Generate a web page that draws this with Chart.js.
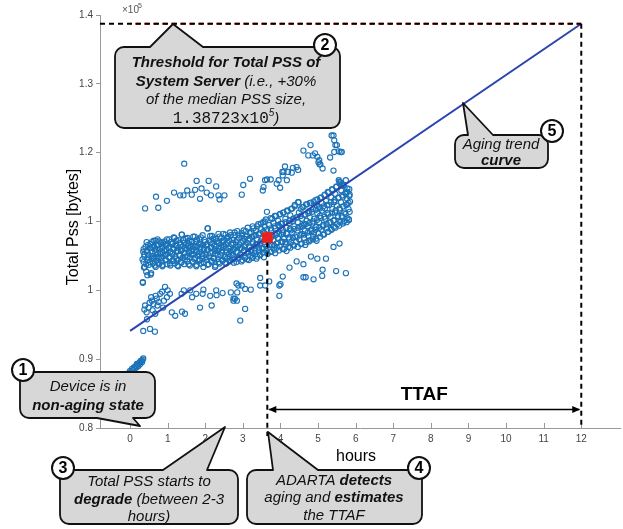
<!DOCTYPE html>
<html>
<head>
<meta charset="utf-8">
<script src="https://cdn.jsdelivr.net/npm/chart.js@4/dist/chart.umd.min.js"></script>
<style>
body { margin: 0; background: #fff; }
#wrap { position: relative; width: 623px; height: 529px; }
</style>
</head>
<body>
<div id="wrap"><canvas id="pss"></canvas></div>
<script>
// axis ticks
const xTickValues = [0, 1, 2, 3, 4, 5, 6, 7, 8, 9, 10, 11, 12];
const yTickValues = [0.8, 0.9, 1.0, 1.1, 1.2, 1.3, 1.4];
const yTickLabels = ['0.8', '0.9', '1', '1.1', '1.2', '1.3', '1.4'];

// trend + threshold (x10^5 bytes)
const trendHours = [0, 12];
const trendPss = [0.941, 1.38723];
const thresholdPss = 1.38723;
const detectHour = 3.65;
const detectPss = 1.0765;
const failHour = 12;
const ttafLevel = 0.827;

// samples [hours, pss x10^5]
const startCluster = [[-0.03,0.880],[0.0,0.883],[0.03,0.881],[0.05,0.886],[0.08,0.884],[0.1,0.888],[0.12,0.886],[0.15,0.890],
  [0.17,0.888],[0.2,0.892],[0.22,0.890],[0.25,0.895],[0.27,0.893],[0.3,0.898],[0.32,0.896],[0.35,0.901],[0.33,0.899],
  [0.28,0.897],[0.18,0.893],[0.08,0.879]];

const lowerBand = [[0.35,0.941],[0.53,0.944],[0.66,0.940],[0.40,0.978],[0.44,0.968],[0.58,0.985],[0.71,0.988],[0.80,0.995],
  [0.93,1.005],[1.06,0.995],[0.98,0.990],[0.49,0.975],[0.62,0.980],[0.73,0.978],[0.90,0.985],[1.11,0.968],[1.20,0.963],
  [0.67,0.966],[1.37,0.995],[1.43,1.000],[1.60,1.000],[1.65,0.990],[1.76,0.995],[1.86,0.975],[1.95,1.001],[1.93,0.995],
  [2.13,0.992],[2.17,0.978],[2.29,1.000],[2.30,0.993],[2.46,0.996],[2.68,0.997],[2.79,0.988],[2.84,0.985],[2.83,1.010],
  [2.93,0.956],[2.88,1.007],[2.97,1.007],[3.06,1.002],[3.21,1.001],[2.75,0.988],[3.06,0.973],[3.46,1.018],[3.46,1.007],
  [3.59,1.007],[3.70,1.013],[3.97,1.007],[4.00,1.009],[3.97,0.992],[4.06,1.020],[4.24,1.033],[4.43,1.042],[4.61,1.038],
  [4.61,1.019],[4.67,1.019],[4.88,1.016],[4.81,1.049],[4.98,1.046],[5.21,1.046],[5.12,1.030],[5.11,1.021],[5.41,1.063],
  [5.57,1.068],[5.48,1.028],[5.74,1.025],[0.38,0.972],[0.52,0.982],[0.56,0.990],[0.68,0.992],[0.76,0.983],[0.85,0.998],
  [0.88,0.975],[1.00,1.000],[0.45,0.958],[0.60,0.971],[1.38,0.969],[1.46,0.966],[2.85,0.997],[2.75,0.985]];

const mainBand = [
  [0.34,1.011],[0.37,1.033],[0.33,1.045],[0.38,1.052],[0.36,1.060],
  [0.46,1.022],[0.43,1.038],[0.47,1.048],[0.44,1.057],[0.48,1.066],
  [0.56,1.025],[0.53,1.041],[0.57,1.050],[0.54,1.062],[0.58,1.070],
  [0.66,1.036],[0.63,1.046],[0.67,1.055],[0.64,1.064],[0.68,1.072],
  [0.76,1.040],[0.73,1.049],[0.77,1.058],[0.74,1.066],[0.78,1.071],
  [0.86,1.037],[0.83,1.047],[0.87,1.054],[0.84,1.061],[0.88,1.069],
  [0.96,1.044],[0.93,1.051],[0.97,1.059],[0.94,1.067],[0.98,1.074],
  [1.06,1.039],[1.03,1.048],[1.07,1.056],[1.04,1.063],[1.08,1.070],
  [1.16,1.043],[1.13,1.053],[1.17,1.060],[1.14,1.068],[1.18,1.076],
  [1.26,1.036],[1.23,1.046],[1.27,1.057],[1.24,1.065],[1.28,1.073],
  [1.36,1.041],[1.33,1.050],[1.37,1.058],[1.34,1.066],[1.38,1.081],
  [1.46,1.045],[1.43,1.054],[1.47,1.061],[1.44,1.069],[1.48,1.075],
  [1.56,1.038],[1.53,1.049],[1.57,1.057],[1.54,1.064],[1.58,1.072],
  [1.66,1.042],[1.63,1.052],[1.67,1.060],[1.64,1.070],[1.68,1.078],
  [1.76,1.035],[1.73,1.047],[1.77,1.056],[1.74,1.063],[1.78,1.074],
  [1.86,1.044],[1.83,1.053],[1.87,1.061],[1.84,1.068],[1.88,1.077],
  [1.96,1.040],[1.93,1.050],[1.97,1.058],[1.94,1.066],[1.98,1.073],
  [2.06,1.037],[2.03,1.048],[2.07,1.059],[2.04,1.067],[2.07,1.090],
  [2.16,1.043],[2.13,1.054],[2.17,1.062],[2.14,1.070],[2.18,1.079],
  [2.26,1.034],[2.23,1.046],[2.27,1.057],[2.24,1.065],[2.28,1.075],
  [2.36,1.041],[2.33,1.051],[2.37,1.060],[2.34,1.069],[2.38,1.078],
  [2.46,1.045],[2.43,1.055],[2.47,1.063],[2.44,1.071],[2.48,1.082],
  [2.56,1.039],[2.53,1.049],[2.57,1.058],[2.54,1.067],[2.58,1.076],
  [2.66,1.043],[2.63,1.053],[2.67,1.062],[2.64,1.072],[2.68,1.080],
  [2.76,1.040],[2.73,1.051],[2.77,1.060],[2.74,1.069],[2.78,1.084],
  [2.86,1.046],[2.83,1.056],[2.87,1.064],[2.84,1.073],[2.88,1.081],
  [2.96,1.042],[2.93,1.052],[2.97,1.061],[2.94,1.070],[2.98,1.079],
  [3.06,1.047],[3.03,1.057],[3.07,1.066],[3.04,1.075],[3.08,1.086],
  [3.16,1.044],[3.13,1.055],[3.17,1.064],[3.14,1.074],[3.18,1.083],
  [3.26,1.049],[3.23,1.059],[3.27,1.068],[3.24,1.078],[3.28,1.090],
  [3.36,1.046],[3.33,1.057],[3.37,1.067],[3.34,1.080],[3.38,1.093],
  [3.46,1.051],[3.43,1.062],[3.47,1.071],[3.44,1.083],[3.48,1.097],
  [3.56,1.048],[3.53,1.060],[3.57,1.070],[3.54,1.085],[3.58,1.100],
  [3.66,1.053],[3.63,1.064],[3.67,1.074],[3.64,1.088],[3.64,1.114],
  [3.76,1.056],[3.73,1.066],[3.77,1.078],[3.74,1.090],[3.78,1.104],
  [3.86,1.054],[3.83,1.065],[3.87,1.080],[3.84,1.093],[3.88,1.108],
  [3.96,1.058],[3.93,1.069],[3.97,1.082],[3.94,1.095],[3.98,1.110],
  [4.06,1.060],[4.03,1.071],[4.07,1.084],[4.04,1.097],[4.08,1.113],
  [4.16,1.057],[4.13,1.070],[4.17,1.083],[4.14,1.099],[4.18,1.115],
  [4.26,1.062],[4.23,1.074],[4.27,1.087],[4.24,1.101],[4.28,1.118],
  [4.36,1.065],[4.33,1.076],[4.37,1.089],[4.34,1.104],[4.38,1.122],
  [4.46,1.063],[4.43,1.077],[4.47,1.091],[4.44,1.106],[4.48,1.128],
  [4.56,1.068],[4.53,1.080],[4.57,1.094],[4.54,1.108],[4.58,1.121],
  [4.66,1.066],[4.63,1.081],[4.67,1.096],[4.64,1.110],[4.68,1.125],
  [4.76,1.071],[4.73,1.084],[4.77,1.098],[4.74,1.112],[4.78,1.127],
  [4.86,1.074],[4.83,1.086],[4.87,1.100],[4.84,1.114],[4.88,1.129],
  [4.96,1.072],[4.93,1.088],[4.97,1.102],[4.94,1.117],[4.98,1.132],
  [5.06,1.078],[5.03,1.091],[5.07,1.105],[5.04,1.119],[5.08,1.135],
  [5.16,1.081],[5.13,1.093],[5.17,1.107],[5.14,1.122],[5.18,1.139],
  [5.26,1.085],[5.23,1.096],[5.27,1.110],[5.24,1.124],[5.28,1.142],
  [5.36,1.088],[5.33,1.099],[5.37,1.113],[5.34,1.128],[5.38,1.146],
  [5.46,1.091],[5.43,1.102],[5.47,1.116],[5.44,1.131],[5.48,1.150],
  [5.56,1.094],[5.53,1.106],[5.57,1.119],[5.54,1.135],[5.58,1.155],[5.55,1.160],
  [5.66,1.097],[5.63,1.108],[5.67,1.122],[5.64,1.138],[5.68,1.152],
  [5.76,1.099],[5.73,1.111],[5.77,1.125],[5.74,1.140],[5.78,1.148],
  [5.82,1.102],[5.84,1.114],[5.81,1.127],[5.83,1.137]];

// second, looser read of the dense band
const mainBandFill = [
  [0.34,1.012],[0.36,1.041],[0.35,1.056],[0.39,1.034],[0.41,1.063],[0.38,1.049],[0.43,1.027],[0.45,1.058],[0.47,1.044],
  [0.44,1.070],[0.50,1.037],[0.52,1.061],[0.49,1.052],[0.55,1.023],[0.57,1.046],[0.54,1.067],[0.59,1.055],[0.61,1.039],
  [0.63,1.072],[0.60,1.063],[0.65,1.048],[0.68,1.034],[0.67,1.059],[0.71,1.066],[0.70,1.043],[0.74,1.053],[0.73,1.074],
  [0.77,1.038],[0.79,1.061],[0.76,1.047],[0.82,1.069],[0.81,1.055],[0.84,1.042],[0.87,1.063],[0.86,1.035],[0.89,1.050],
  [0.92,1.071],[0.91,1.058],[0.94,1.044],[0.97,1.066],[0.96,1.052],[0.99,1.038],
  [1.02,1.061],[1.04,1.074],[1.05,1.047],[1.08,1.056],[1.07,1.036],[1.11,1.068],[1.13,1.043],[1.12,1.053],[1.16,1.077],
  [1.15,1.060],[1.19,1.039],[1.21,1.065],[1.20,1.049],[1.24,1.057],[1.23,1.072],[1.27,1.044],[1.29,1.062],[1.28,1.035],
  [1.32,1.069],[1.31,1.051],[1.35,1.058],[1.37,1.081],[1.36,1.040],[1.40,1.064],[1.39,1.047],[1.43,1.073],[1.45,1.055],
  [1.44,1.038],[1.48,1.066],[1.47,1.049],[1.51,1.060],[1.53,1.076],[1.52,1.042],[1.56,1.054],[1.55,1.068],[1.59,1.036],
  [1.61,1.063],[1.60,1.048],[1.64,1.071],[1.63,1.057],[1.67,1.041],[1.69,1.065],[1.68,1.052],[1.72,1.078],[1.71,1.045],
  [1.75,1.059],[1.77,1.037],[1.76,1.070],[1.80,1.050],[1.79,1.064],[1.83,1.043],[1.85,1.074],[1.84,1.056],[1.88,1.039],
  [1.87,1.067],[1.91,1.053],[1.93,1.080],[1.92,1.046],[1.96,1.061],[1.95,1.034],[1.99,1.070],
  [2.01,1.052],[2.03,1.044],[2.02,1.066],[2.06,1.090],[2.05,1.058],[2.09,1.038],[2.11,1.072],[2.10,1.049],[2.14,1.062],
  [2.13,1.079],[2.17,1.041],[2.19,1.056],[2.18,1.068],[2.22,1.047],[2.21,1.075],[2.25,1.060],[2.27,1.036],[2.26,1.053],
  [2.30,1.071],[2.29,1.064],[2.33,1.045],[2.35,1.082],[2.34,1.057],[2.38,1.039],[2.37,1.069],[2.41,1.051],[2.43,1.076],
  [2.42,1.062],[2.46,1.043],[2.45,1.058],[2.49,1.072],[2.51,1.048],[2.50,1.065],[2.54,1.081],[2.53,1.040],[2.57,1.055],
  [2.59,1.069],[2.58,1.046],[2.62,1.061],[2.61,1.078],[2.65,1.042],[2.67,1.057],[2.66,1.084],[2.70,1.051],[2.69,1.067],
  [2.73,1.045],[2.75,1.073],[2.74,1.059],[2.78,1.080],[2.77,1.048],[2.81,1.063],[2.83,1.041],[2.82,1.070],[2.86,1.055],
  [2.85,1.086],[2.89,1.047],[2.91,1.066],[2.90,1.076],[2.94,1.052],[2.93,1.061],[2.97,1.083],[2.99,1.044],
  [3.01,1.071],[3.03,1.058],[3.02,1.087],[3.06,1.049],[3.05,1.064],[3.09,1.078],[3.11,1.045],[3.10,1.069],[3.14,1.056],
  [3.13,1.091],[3.17,1.062],[3.19,1.050],[3.18,1.075],[3.22,1.084],[3.21,1.058],[3.25,1.047],[3.27,1.070],[3.26,1.093],
  [3.30,1.061],[3.29,1.079],[3.33,1.052],[3.35,1.087],[3.34,1.066],[3.38,1.049],[3.37,1.074],[3.41,1.096],[3.43,1.058],
  [3.42,1.081],[3.46,1.068],[3.45,1.052],[3.49,1.089],[3.51,1.075],[3.50,1.061],[3.54,1.099],[3.53,1.055],[3.57,1.083],
  [3.59,1.067],[3.58,1.092],[3.62,1.057],[3.61,1.103],[3.67,1.079],[3.66,1.061],[3.70,1.095],[3.69,1.071],
  [3.73,1.056],[3.75,1.087],[3.74,1.105],[3.78,1.066],[3.77,1.080],[3.81,1.098],[3.83,1.059],[3.82,1.073],[3.86,1.090],
  [3.85,1.108],[3.89,1.068],[3.91,1.083],[3.90,1.062],[3.94,1.101],[3.93,1.076],[3.97,1.093],[3.99,1.111],[3.98,1.064],
  [4.02,1.081],[4.01,1.097],[4.05,1.070],[4.07,1.113],[4.06,1.088],[4.10,1.060],[4.09,1.075],[4.13,1.104],[4.15,1.091],
  [4.14,1.067],[4.18,1.116],[4.17,1.082],[4.21,1.063],[4.23,1.098],[4.22,1.077],[4.26,1.109],[4.25,1.089],[4.29,1.070],
  [4.31,1.119],[4.30,1.084],[4.34,1.101],[4.33,1.066],[4.37,1.093],[4.39,1.078],[4.38,1.124],[4.42,1.106],[4.41,1.071],
  [4.45,1.087],[4.47,1.128],[4.46,1.099],[4.50,1.074],[4.49,1.113],[4.53,1.092],[4.55,1.067],[4.54,1.118],[4.58,1.082],
  [4.57,1.104],[4.61,1.121],[4.63,1.076],[4.62,1.095],[4.66,1.110],[4.65,1.086],[4.69,1.070],[4.71,1.125],[4.70,1.101],
  [4.74,1.079],[4.73,1.093],[4.77,1.115],[4.79,1.073],[4.78,1.106],[4.82,1.088],[4.81,1.127],[4.85,1.097],[4.87,1.078],
  [4.86,1.118],[4.90,1.104],[4.89,1.084],[4.93,1.131],[4.95,1.092],[4.94,1.075],[4.98,1.112],[4.97,1.123],
  [5.01,1.083],[5.03,1.099],[5.02,1.121],[5.06,1.134],[5.05,1.108],[5.09,1.088],[5.11,1.116],[5.10,1.127],[5.14,1.095],
  [5.13,1.081],[5.17,1.138],[5.19,1.104],[5.18,1.119],[5.22,1.090],[5.21,1.130],[5.25,1.112],[5.27,1.085],[5.26,1.143],
  [5.30,1.098],[5.29,1.124],[5.33,1.107],[5.35,1.135],[5.34,1.089],[5.38,1.118],[5.37,1.147],[5.41,1.101],[5.43,1.128],
  [5.42,1.092],[5.46,1.140],[5.45,1.113],[5.49,1.151],[5.51,1.096],[5.50,1.123],[5.54,1.134],[5.53,1.108],[5.57,1.158],
  [5.59,1.099],[5.58,1.117],[5.62,1.145],[5.61,1.128],[5.65,1.106],[5.67,1.153],[5.66,1.136],[5.70,1.113],[5.69,1.100],
  [5.73,1.142],[5.75,1.124],[5.74,1.160],[5.78,1.105],[5.77,1.133],[5.81,1.118],[5.83,1.147],[5.82,1.103],[5.85,1.129],
  [5.84,1.139]];

const upperBand = [[1.44,1.184],[0.40,1.119],[0.75,1.120],[0.69,1.136],[0.98,1.130],[1.17,1.142],[1.42,1.138],[1.52,1.145],
  [1.64,1.139],[1.77,1.159],[1.73,1.146],[1.86,1.133],[2.09,1.159],[2.04,1.142],[2.15,1.138],[2.29,1.151],[2.35,1.138],
  [2.51,1.138],[2.38,1.132],[1.90,1.148],[1.33,1.138],[2.97,1.139],[3.01,1.153],[3.19,1.162],[3.53,1.145],[3.59,1.160],
  [3.74,1.161],[3.55,1.150],[3.99,1.149],[3.95,1.160],[4.06,1.167],[4.12,1.180],[4.17,1.160],[4.30,1.171],[4.43,1.179],
  [4.47,1.175],[4.05,1.172],[4.61,1.203],[4.80,1.211],[4.74,1.196],[4.86,1.196],[5.01,1.186],[5.04,1.183],[5.32,1.193],
  [5.41,1.225],[5.43,1.218],[5.46,1.211],[5.63,1.201],[5.43,1.201],[5.41,1.174],[5.63,1.153],[3.64,1.161],[3.90,1.155],
  [4.08,1.172],[4.20,1.172],[4.33,1.178],[4.92,1.199],[4.98,1.194],[5.03,1.189],[5.06,1.183],[5.12,1.177],[5.36,1.225],
  [5.50,1.211],[5.55,1.202],[5.60,1.201],[5.59,1.157],[5.78,1.143]];

const samples = startCluster.concat(lowerBand, mainBand, mainBandFill, upperBand);

const FONT = "'Liberation Sans', Arial, sans-serif";
const MONO = "'Liberation Mono', 'DejaVu Sans Mono', monospace";

// callouts: box [x,y,w,h], pointer side, base x's, tip, number circle, lines of [text, style]
const callouts = [
  { num: '2', box: [115, 47, 225, 81], side: 'top', base: [150, 203], tip: [173, 24], circle: [325, 45], cx: 226,
    lineY: [63, 82, 100, 119],
    lines: [[['Threshold for Total PSS of', 'bi']],
            [['System Server', 'bi'], [' (i.e., +30%', 'i']],
            [['of the median PSS size,', 'i']],
            [['1.38723x10', 'm'], ['5', 'sup'], [')', 'i']]] },
  { num: '1', box: [20, 372, 135, 46], side: 'bottom', base: [97, 133], tip: [140, 426], circle: [23, 370], cx: 88,
    lineY: [387, 406],
    lines: [[['Device is in', 'i']], [['non-aging state', 'bi']]] },
  { num: '3', box: [60, 470, 178, 54], side: 'top', base: [163, 207], tip: [225, 427], circle: [63, 468], cx: 149,
    lineY: [482, 500, 517],
    lines: [[['Total PSS starts to', 'i']], [['degrade', 'bi'], [' (between 2-3', 'i']], [['hours)', 'i']]] },
  { num: '4', box: [247, 470, 175, 54], side: 'top', base: [273, 318], tip: [268, 432], circle: [419, 468], cx: 334,
    lineY: [481, 498, 516],
    lines: [[['ADARTA ', 'i'], ['detects', 'bi']], [['aging and ', 'i'], ['estimates', 'bi']], [['the TTAF', 'i']]] },
  { num: '5', box: [455, 135, 93, 33], side: 'top', base: [468, 493], tip: [463, 103], circle: [552, 131], cx: 501,
    lineY: [145, 161],
    lines: [[['Aging trend', 'i']], [['curve', 'bi']]] }
];

function fontFor(style) {
  if (style === 'bi') return 'italic bold 15px ' + FONT;
  if (style === 'm') return '16px ' + MONO;
  if (style === 'sup') return 'italic 10px ' + FONT;
  return 'italic 15px ' + FONT;
}

function calloutPath(ctx, c) {
  const [x, y, w, h] = c.box, r = 9;
  ctx.beginPath();
  ctx.moveTo(x + r, y);
  if (c.side === 'top') { ctx.lineTo(c.base[0], y); ctx.lineTo(c.tip[0], c.tip[1]); ctx.lineTo(c.base[1], y); }
  ctx.lineTo(x + w - r, y);
  ctx.arcTo(x + w, y, x + w, y + r, r);
  ctx.lineTo(x + w, y + h - r);
  ctx.arcTo(x + w, y + h, x + w - r, y + h, r);
  if (c.side === 'bottom') { ctx.lineTo(c.base[1], y + h); ctx.lineTo(c.tip[0], c.tip[1]); ctx.lineTo(c.base[0], y + h); }
  ctx.lineTo(x + r, y + h);
  ctx.arcTo(x, y + h, x, y + h - r, r);
  ctx.lineTo(x, y + r);
  ctx.arcTo(x, y, x + r, y, r);
  ctx.closePath();
}

function drawCallout(ctx, c) {
  calloutPath(ctx, c);
  ctx.fillStyle = '#d7d7d7';
  ctx.fill();
  ctx.lineWidth = 1.8;
  ctx.strokeStyle = '#111';
  ctx.lineJoin = 'round';
  ctx.stroke();
  ctx.fillStyle = '#111';
  ctx.textBaseline = 'middle';
  ctx.textAlign = 'left';
  c.lines.forEach((segs, i) => {
    let total = 0;
    segs.forEach(s => { ctx.font = fontFor(s[1]); total += ctx.measureText(s[0]).width; });
    let x = c.cx - total / 2;
    segs.forEach(s => {
      ctx.font = fontFor(s[1]);
      ctx.fillText(s[0], x, c.lineY[i] + (s[1] === 'sup' ? -6 : 0));
      x += ctx.measureText(s[0]).width;
    });
  });
  // number badge
  ctx.beginPath();
  ctx.arc(c.circle[0], c.circle[1], 11, 0, Math.PI * 2);
  ctx.fillStyle = '#fff';
  ctx.fill();
  ctx.lineWidth = 2;
  ctx.stroke();
  ctx.fillStyle = '#000';
  ctx.font = 'bold 16px ' + FONT;
  ctx.textAlign = 'center';
  ctx.fillText(c.num, c.circle[0], c.circle[1] + 1);
}

function arrowHead(ctx, x, y, dir) {
  ctx.beginPath();
  ctx.moveTo(x, y);
  ctx.lineTo(x - dir * 8, y - 3.5);
  ctx.lineTo(x - dir * 8, y + 3.5);
  ctx.closePath();
  ctx.fill();
}

const overlay = {
  id: 'overlay',
  afterDraw(chart) {
    const ctx = chart.ctx, xs = chart.scales.x, ys = chart.scales.y, a = chart.chartArea;
    ctx.save();

    // x ticks pointing inward
    ctx.strokeStyle = '#999';
    ctx.lineWidth = 1;
    xTickValues.forEach(v => {
      const px = Math.round(xs.getPixelForValue(v)) + 0.5;
      ctx.beginPath(); ctx.moveTo(px, a.bottom); ctx.lineTo(px, a.bottom - 5); ctx.stroke();
    });

    const thY = ys.getPixelForValue(thresholdPss);
    const failX = xs.getPixelForValue(failHour);
    const detX = xs.getPixelForValue(detectHour);
    const detY = ys.getPixelForValue(detectPss);

    // threshold dashed
    ctx.lineWidth = 2;
    ctx.setLineDash([5, 4]);
    ctx.strokeStyle = '#e03020';
    ctx.lineDashOffset = 4;
    ctx.beginPath(); ctx.moveTo(a.left + 30, thY); ctx.lineTo(failX, thY); ctx.stroke();
    ctx.strokeStyle = '#000';
    ctx.lineDashOffset = 0;
    ctx.beginPath(); ctx.moveTo(a.left, thY); ctx.lineTo(failX, thY); ctx.stroke();
    ctx.beginPath(); ctx.moveTo(failX, thY); ctx.lineTo(failX, a.bottom); ctx.stroke();
    ctx.beginPath(); ctx.moveTo(detX, detY + 5); ctx.lineTo(detX, a.bottom + 8); ctx.stroke();
    ctx.setLineDash([]);

    // TTAF arrow
    const ty = ys.getPixelForValue(ttafLevel);
    ctx.strokeStyle = '#000';
    ctx.fillStyle = '#000';
    ctx.lineWidth = 1.5;
    ctx.beginPath(); ctx.moveTo(detX + 2, ty); ctx.lineTo(failX - 2, ty); ctx.stroke();
    arrowHead(ctx, detX + 1, ty, -1);
    arrowHead(ctx, failX - 1, ty, 1);
    ctx.font = 'bold 19px ' + FONT;
    ctx.textAlign = 'center';
    ctx.textBaseline = 'middle';
    ctx.fillText('TTAF', (detX + failX) / 2, ty - 15);

    // exponent label
    ctx.fillStyle = '#555';
    ctx.textAlign = 'left';
    ctx.font = '10px ' + FONT;
    ctx.fillText('\u00d710', a.left + 22, 10);
    ctx.font = '7px ' + FONT;
    ctx.fillText('5', a.left + 38, 6);

    // axis titles
    ctx.fillStyle = '#000';
    ctx.font = '16px ' + FONT;
    ctx.textAlign = 'center';
    ctx.fillText('hours', 356, 457);
    ctx.save();
    ctx.translate(73, 227);
    ctx.rotate(-Math.PI / 2);
    ctx.fillStyle = '#fff';
    ctx.fillRect(-66, -11, 132, 22);
    ctx.fillStyle = '#000';
    ctx.fillText('Total Pss [bytes]', 0, 1);
    ctx.restore();

    callouts.forEach(c => drawCallout(ctx, c));
    ctx.restore();
  }
};

new Chart(document.getElementById('pss'), {
  data: {
    datasets: [
      {
        type: 'scatter',
        label: 'Detection',
        data: [{ x: detectHour, y: detectPss }],
        pointStyle: 'rect',
        pointRadius: 7,
        backgroundColor: '#e8231f',
        borderColor: '#e8231f',
        order: 0
      },
      {
        type: 'line',
        label: 'Aging trend',
        data: trendHours.map((h, i) => ({ x: h, y: trendPss[i] })),
        borderColor: '#2a45b0',
        borderWidth: 2,
        pointRadius: 0,
        fill: false,
        order: 1
      },
      {
        type: 'scatter',
        label: 'Total Pss',
        data: samples.map(p => ({ x: p[0], y: p[1] })),
        pointStyle: 'circle',
        pointRadius: 2.6,
        borderWidth: 1.1,
        borderColor: '#1a72b8',
        backgroundColor: 'rgba(0,0,0,0)',
        order: 2
      }
    ]
  },
  options: {
    responsive: true,
    maintainAspectRatio: false,
    animation: false,
    layout: { autoPadding: false, padding: { left: 0, right: 3, top: 15, bottom: 0 } },
    plugins: { legend: { display: false }, tooltip: { enabled: false } },
    scales: {
      x: {
        type: 'linear',
        min: -0.8,
        max: 13.03,
        afterBuildTicks: s => { s.ticks = xTickValues.map(v => ({ value: v })); },
        afterFit: s => { s.height = 101; },
        grid: { drawOnChartArea: false, drawTicks: false },
        border: { color: '#999', width: 1 },
        ticks: { padding: 5, color: '#444', font: { size: 10, family: FONT }, callback: v => String(v) }
      },
      y: {
        type: 'linear',
        min: 0.8,
        max: 1.4,
        afterBuildTicks: s => { s.ticks = yTickValues.map(v => ({ value: v })); },
        afterFit: s => { s.width = 100; },
        grid: { drawOnChartArea: false, drawTicks: true, tickLength: 4, color: '#999' },
        border: { color: '#999', width: 1 },
        ticks: { padding: 3, color: '#444', font: { size: 10, family: FONT },
                 callback: (v, i) => yTickLabels[i] }
      }
    }
  },
  plugins: [overlay]
});
</script>
</body>
</html>
